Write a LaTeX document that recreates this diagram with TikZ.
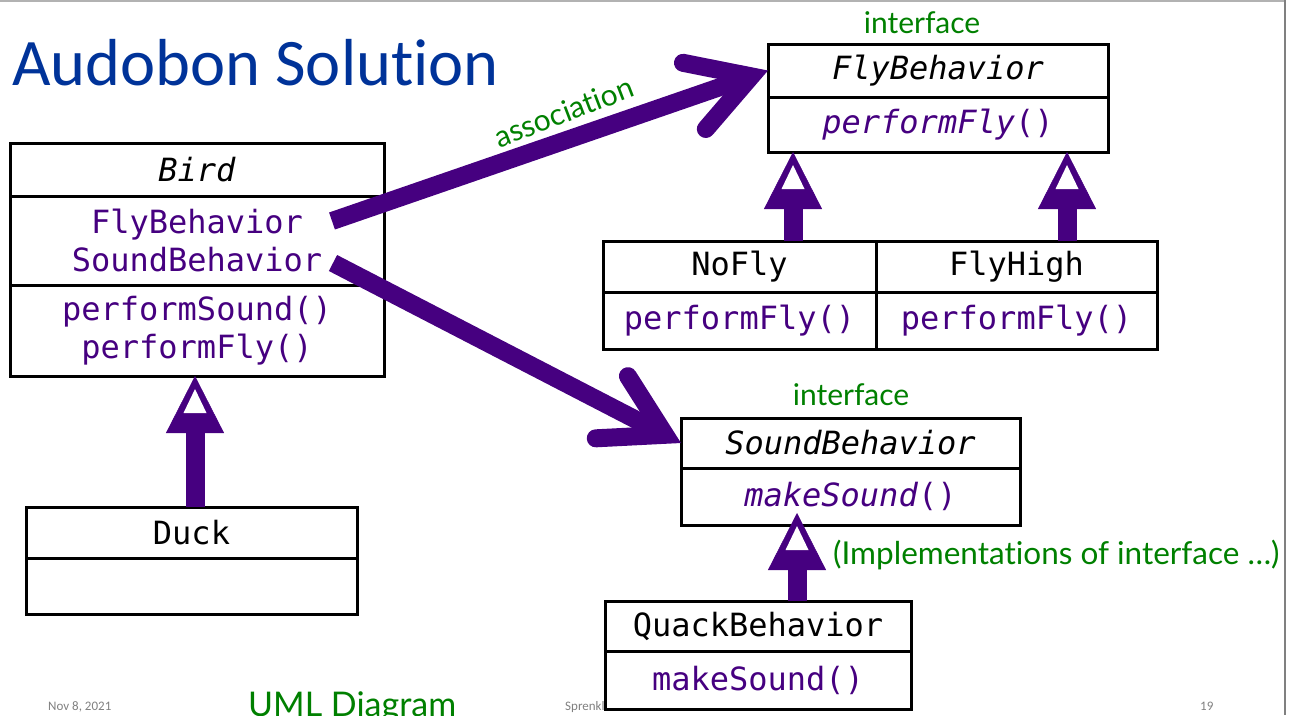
\documentclass[tikz,border=0pt]{standalone}
\usepackage{fontspec}
\setmainfont{Lato}[Ligatures=NoCommon]
\setmonofont{DejaVu Sans Mono}[ItalicFont={DejaVu Sans Mono Oblique}]
\newfontfamily\titlefnt{Carlito}[Ligatures=NoCommon]
\usetikzlibrary{arrows.meta, positioning, calc}

\definecolor{umlpurple}{RGB}{70,0,128}
\definecolor{notegreen}{RGB}{0,128,0}
\definecolor{titleblue}{RGB}{0,51,153}

\newcommand\umlfnt{\ttfamily\fontsize{32}{38}\selectfont}

\tikzset{
  compart/.style={draw=black, line width=3pt, fill=white, inner sep=0pt, outer sep=0pt, align=center, font=\umlfnt},
  hd/.style={compart, text=black},
  bd/.style={compart, text=umlpurple},
  note/.style={text=notegreen, font=\fontsize{30}{32}\selectfont, inner sep=0pt},
  foot/.style={text=gray, font=\titlefnt\fontsize{13}{15}\selectfont, inner sep=0pt},
  assoc/.style={draw=umlpurple, line width=18pt,
    -{Straight Barb[length=60pt, width=70pt, line width=18pt, line cap=round, line join=miter]}},
  inh/.style={draw=umlpurple, line width=19pt, -{Triangle[length=57pt, width=58pt, line width=0.5pt]}}
}

\begin{document}
\begin{tikzpicture}[x=1pt, y=-1pt]
    \useasboundingbox (0,0) rectangle (1289,715);

    % Slide frame and title
    \draw[gray!60, line width=1.5pt] (0,1) -- (1285,1);
    \draw[gray, line width=1.5pt] (1285,0) -- (1285,715);
    \node[text=titleblue, font=\titlefnt\fontsize{66.5}{70}\selectfont, inner sep=0pt, anchor=base west] (title) at (12,85) {Audobon Solution};

    % Footer (drawn first, the QuackBehavior box covers part of it)
    \node[foot, anchor=base west] (date) at (48,710) {Nov 8, 2021};
    \node[note, font=\fontsize{34}{36}\selectfont, anchor=base west] (footttl) at (248,716) {UML Diagram};
    \node[foot, anchor=base west] (author) at (565,710) {Sprenkle};
    \node[foot, anchor=base west] (pagenum) at (1200,710) {19};

    % Bird
    \node[hd, minimum width=374pt, minimum height=53pt, anchor=north west] (birdhead) at (10,143) {\textit{Bird}};
    \node[bd, minimum width=374pt, minimum height=89pt, below=0pt of birdhead] (birdattr) {FlyBehavior\\SoundBehavior};
    \node[bd, minimum width=374pt, minimum height=91pt, below=0pt of birdattr] (birdops) {performSound()\\performFly()};

    % Duck
    \node[hd, minimum width=331pt, minimum height=51pt, anchor=north west] (duckhead) at (26,507) {Duck};
    \node[bd, minimum width=331pt, minimum height=56pt, below=0pt of duckhead] (duckbody) {};

    % FlyBehavior interface
    \node[note, anchor=base] (flyiface) at (922,33) {interface};
    \node[hd, minimum width=340pt, minimum height=53pt, anchor=north west] (flyhead) at (768,44) {\textit{FlyBehavior}};
    \node[bd, minimum width=340pt, minimum height=55pt, below=0pt of flyhead] (flybody) {\textit{performFly}()};

    % NoFly and FlyHigh
    \node[hd, minimum width=273pt, minimum height=51pt, anchor=north west] (noflyhead) at (603,241) {NoFly};
    \node[bd, minimum width=273pt, minimum height=57pt, below=0pt of noflyhead] (noflybody) {performFly()};
    \node[hd, minimum width=281pt, minimum height=51pt, anchor=north west] (flyhighhead) at (876,241) {FlyHigh};
    \node[bd, minimum width=281pt, minimum height=57pt, below=0pt of flyhighhead] (flyhighbody) {performFly()};

    % SoundBehavior interface
    \node[note, anchor=base] (sndiface) at (851,405) {interface};
    \node[hd, minimum width=339pt, minimum height=50pt, anchor=north west] (sndhead) at (681,418) {\textit{SoundBehavior}};
    \node[bd, minimum width=339pt, minimum height=57pt, below=0pt of sndhead] (sndbody) {\textit{makeSound}()};

    % QuackBehavior
    \node[hd, minimum width=306pt, minimum height=50pt, anchor=north west] (quackhead) at (605,601) {QuackBehavior};
    \node[bd, minimum width=306pt, minimum height=58pt, below=0pt of quackhead] (quackbody) {makeSound()};

    % Notes
    \node[note, rotate=21] (assoclbl) at (564,112) {association};
    \node[note, font=\fontsize{31.5}{33}\selectfont, anchor=west] (implnote) at (833,555) {(Implementations of interface …)};

    % Associations
    \coordinate (flyref) at (332,221);
    \coordinate (sndref) at (333,263);
    \draw[assoc] (flyref) -- (flyhead.west);
    \draw[assoc] (sndref) -- (sndhead.west);

    % Inheritance arrows
    \coordinate (ducktip) at (195,376);
    \coordinate (noflytip) at (793,152);
    \coordinate (flyhightip) at (1067,152);
    \coordinate (quacktip) at (797,513);
    \foreach \tip/\src in {ducktip/duckhead, noflytip/noflyhead, flyhightip/flyhighhead, quacktip/quackhead} {
        \draw[inh] (\tip |- \src.north) -- (\tip);
        \fill[white] ($(\tip)+(0,13)$) -- ++(-11.5,24) -- ++(23,0) -- cycle;
    }
\end{tikzpicture}
\end{document}
